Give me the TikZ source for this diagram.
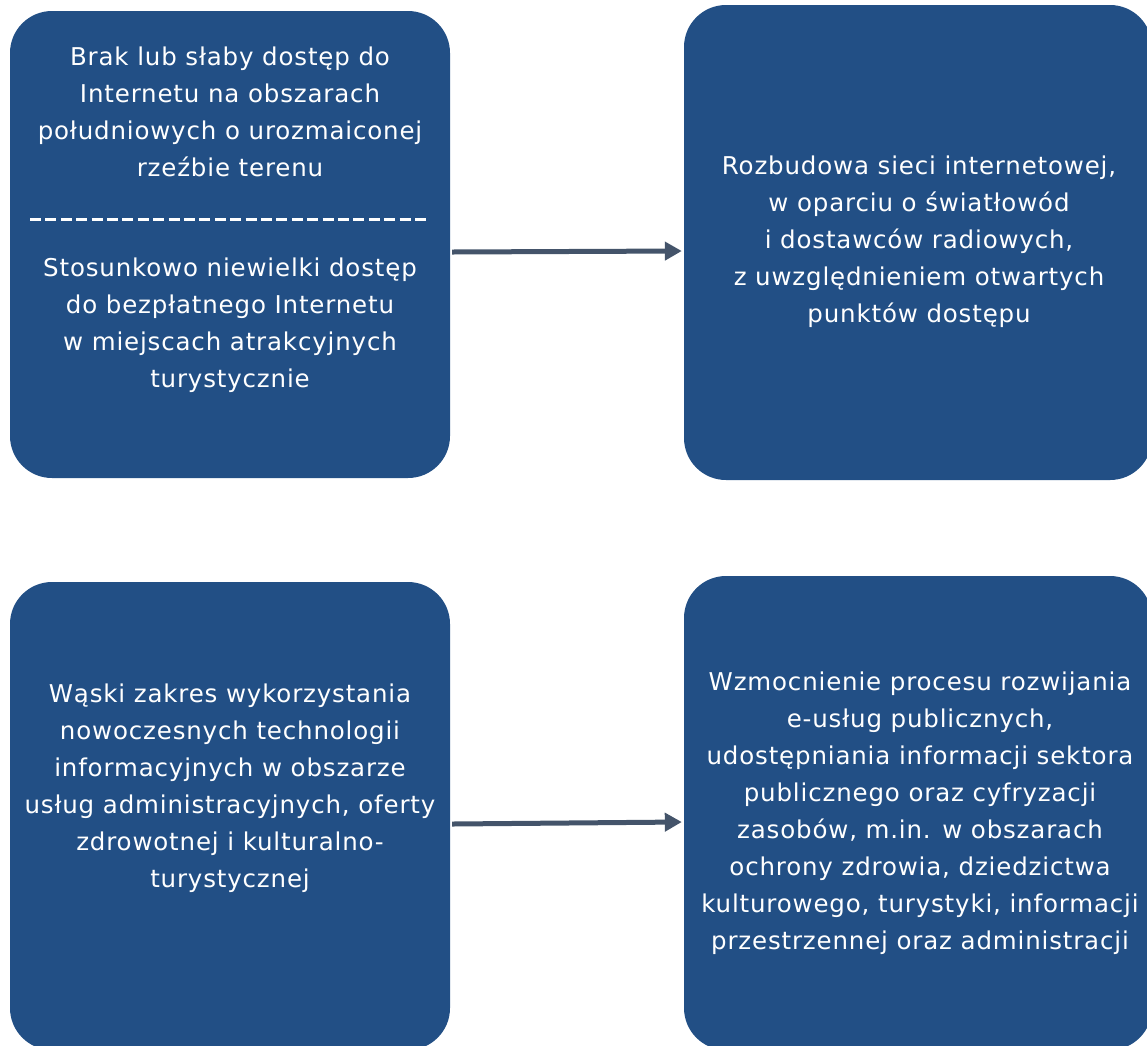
\documentclass[tikz,border=0pt]{standalone}
\usepackage{fontspec}
\setmainfont[LetterSpace=3.4]{DejaVu Sans}
\usetikzlibrary{arrows.meta}
\definecolor{boxblue}{HTML}{224F85}
\definecolor{arrowgray}{HTML}{44546A}
\begin{document}
\begin{tikzpicture}[x=1pt,y=-1pt,
  box/.style={fill=boxblue, rounded corners=42pt, inner sep=0pt, draw=none},
  txt/.style={text=white, align=center, font=\fontsize{24.5}{37}\selectfont, inner sep=0pt},
  arr/.style={draw=arrowgray, line width=5pt, -{Triangle[length=17pt,width=18pt]}},
  sep/.style={draw=white, line width=3pt, dash pattern=on 11pt off 4.4pt}]
\useasboundingbox (0,0) rectangle (1147,1045);
\clip (0,0) rectangle (1147,1045);
% boxes
\node[box, minimum width=440pt, minimum height=467pt] (b1) at (230,244.5) {};
\node[box, minimum width=468pt, minimum height=475pt] (b2) at (918,242.5) {};
\node[box, minimum width=440pt, minimum height=468pt] (b3) at (230,816) {};
\node[box, minimum width=468pt, minimum height=474pt] (b4) at (918,813) {};
% texts
\node[txt] (t1a) at (230,112) {Brak lub słaby dostęp do\\Internetu na obszarach\\południowych o urozmaiconej\\rzeźbie terenu};
\coordinate (s1) at (30,219);
\coordinate (s2) at (430,219);
\draw[sep] (s1) -- (s2);
\node[txt] (t1b) at (230,325) {Stosunkowo niewielki dostęp\\do bezpłatnego Internetu\\w miejscach atrakcyjnych\\turystycznie};
\node[txt] (t2) at (919,241.5) {Rozbudowa sieci internetowej,\\w oparciu o światłowód\\i dostawców radiowych,\\z uwzględnieniem otwartych\\punktów dostępu};
\node[txt] (t3) at (230,788.5) {Wąski zakres wykorzystania\\nowoczesnych technologii\\informacyjnych w obszarze\\usług administracyjnych, oferty\\zdrowotnej i kulturalno-\\turystycznej};
\node[txt] (t4) at (920,813) {Wzmocnienie procesu rozwijania\\e-usług publicznych,\\udostępniania informacji sektora\\publicznego oraz cyfryzacji\\zasobów, m.in. w obszarach\\ochrony zdrowia, dziedzictwa\\kulturowego, turystyki, informacji\\przestrzennej oraz administracji};
% arrows
\draw[arr] ([shift={(2pt,-7.5pt)}]b1.east) -- ([shift={(-2pt,-8.5pt)}]b2.west);
\draw[arr] ([shift={(2pt,-8pt)}]b3.east) -- ([shift={(-2pt,-9pt)}]b4.west);
\end{tikzpicture}
\end{document}
